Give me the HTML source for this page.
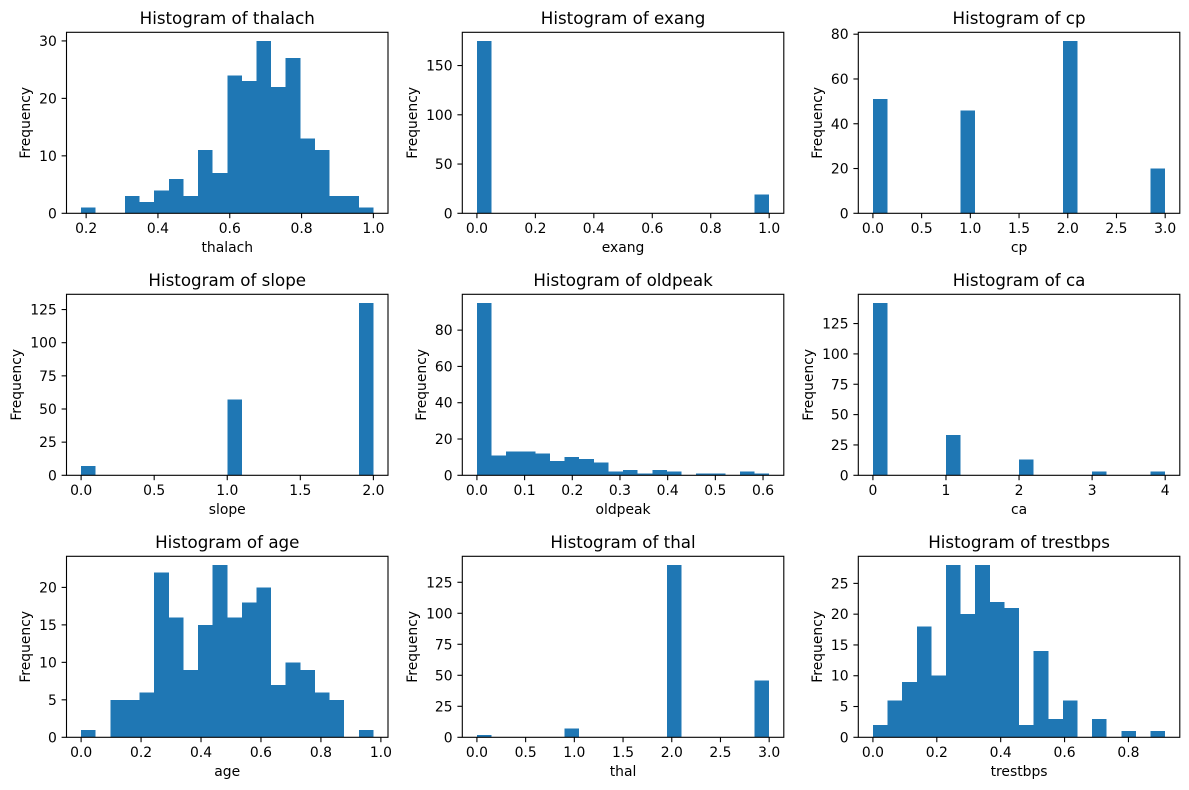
<!DOCTYPE html>
<html><head><meta charset="utf-8">
<style>
html,body{margin:0;padding:0;background:#fff;}
svg{display:block;font-family:"DejaVu Sans","Liberation Sans",sans-serif;}
</style></head>
<body>
<svg id="fig" width="1189" height="790" viewBox="0 0 1189 790" xmlns="http://www.w3.org/2000/svg">
<rect x="0" y="0" width="1189" height="790" fill="#fff"/>
</svg>
<script>
// ---- data ----
const thalachCounts = [1,0,0,3,2,4,6,3,11,7,24,23,30,22,27,13,11,3,3,1];
const thalachRange = [0.186, 1.0];
const thalachXTicks = ["0.2","0.4","0.6","0.8","1.0"];
const thalachYTicks = ["0","10","20","30"];

const exangCounts = [175,0,0,0,0,0,0,0,0,0,0,0,0,0,0,0,0,0,0,19];
const exangRange = [0, 1];
const exangXTicks = ["0.0","0.2","0.4","0.6","0.8","1.0"];
const exangYTicks = ["0","50","100","150"];

const cpCounts = [51,0,0,0,0,0,46,0,0,0,0,0,0,77,0,0,0,0,0,20];
const cpRange = [0, 3];
const cpXTicks = ["0.0","0.5","1.0","1.5","2.0","2.5","3.0"];
const cpYTicks = ["0","20","40","60","80"];

const slopeCounts = [7,0,0,0,0,0,0,0,0,0,57,0,0,0,0,0,0,0,0,130];
const slopeRange = [0, 2];
const slopeXTicks = ["0.0","0.5","1.0","1.5","2.0"];
const slopeYTicks = ["0","25","50","75","100","125"];

const oldpeakCounts = [95,11,13,13,12,8,10,9,7,2,3,1,3,2,0,1,1,0,2,1];
const oldpeakRange = [0, 0.6129];
const oldpeakXTicks = ["0.0","0.1","0.2","0.3","0.4","0.5","0.6"];
const oldpeakYTicks = ["0","20","40","60","80"];

const caCounts = [142,0,0,0,0,33,0,0,0,0,13,0,0,0,0,3,0,0,0,3];
const caRange = [0, 4];
const caXTicks = ["0","1","2","3","4"];
const caYTicks = ["0","25","50","75","100","125"];

const ageCounts = [1,0,5,5,6,22,16,9,15,23,16,18,20,7,10,9,6,5,0,1];
const ageRange = [0, 0.975];
const ageXTicks = ["0.0","0.2","0.4","0.6","0.8","1.0"];
const ageYTicks = ["0","5","10","15","20"];

const thalCounts = [2,0,0,0,0,0,7,0,0,0,0,0,0,139,0,0,0,0,0,46];
const thalRange = [0, 3];
const thalXTicks = ["0.0","0.5","1.0","1.5","2.0","2.5","3.0"];
const thalYTicks = ["0","25","50","75","100","125"];

const trestbpsCounts = [2,6,9,18,10,28,20,28,22,21,2,14,3,6,0,3,0,1,0,1];
const trestbpsRange = [0, 0.915];
const trestbpsXTicks = ["0.0","0.2","0.4","0.6","0.8"];
const trestbpsYTicks = ["0","5","10","15","20","25"];

const panels = [
  {name:"thalach", counts:thalachCounts, range:thalachRange, xt:thalachXTicks, yt:thalachYTicks},
  {name:"exang", counts:exangCounts, range:exangRange, xt:exangXTicks, yt:exangYTicks},
  {name:"cp", counts:cpCounts, range:cpRange, xt:cpXTicks, yt:cpYTicks},
  {name:"slope", counts:slopeCounts, range:slopeRange, xt:slopeXTicks, yt:slopeYTicks},
  {name:"oldpeak", counts:oldpeakCounts, range:oldpeakRange, xt:oldpeakXTicks, yt:oldpeakYTicks},
  {name:"ca", counts:caCounts, range:caRange, xt:caXTicks, yt:caYTicks},
  {name:"age", counts:ageCounts, range:ageRange, xt:ageXTicks, yt:ageYTicks},
  {name:"thal", counts:thalCounts, range:thalRange, xt:thalXTicks, yt:thalYTicks},
  {name:"trestbps", counts:trestbpsCounts, range:trestbpsRange, xt:trestbpsXTicks, yt:trestbpsYTicks}
];

// ---- layout ----
const colLeft = [66.5, 462.3, 858.3];
const rowTop = [32.3, 294.3, 556.3];
const AW = 321.5, AH = 181;
const NS = "http://www.w3.org/2000/svg";
const svg = document.getElementById("fig");

function mk(tag, attrs, parent){
  const e = document.createElementNS(NS, tag);
  for (const k in attrs) e.setAttribute(k, attrs[k]);
  (parent||svg).appendChild(e);
  return e;
}

panels.forEach((p, i) => {
  const L = colLeft[i % 3], T = rowTop[Math.floor(i / 3)], B = T + AH, R = L + AW;
  const g = mk("g", {});
  
  

  const lo = p.range[0], hi = p.range[1], span = hi - lo;
  const x0 = lo - 0.05 * span, x1 = hi + 0.05 * span;
  const ymax = Math.max(...p.counts) * 1.05;
  const sx = v => L + (v - x0) / (x1 - x0) * AW;
  const sy = v => B - v / ymax * AH;
  const n = p.counts.length, bw = span / n;

  // bars
  p.counts.forEach((c, k) => {
    if (c <= 0) return;
    const xa = sx(lo + k * bw), xb = sx(lo + (k + 1) * bw);
    const r = mk("rect", {x: xa, y: sy(c), width: xb - xa, height: B - sy(c), fill: "#1f77b4", "shape-rendering": "crispEdges"}, g);
    
    
  });

  // spines
  const fr = mk("rect", {x: L, y: T, width: AW, height: AH, fill: "none", stroke: "#000", "stroke-width": 1.1}, g);
  
  

  // x ticks
  p.xt.forEach(lbl => {
    const x = sx(parseFloat(lbl));
    mk("line", {x1: x, y1: B, x2: x, y2: B + 4.9, stroke: "#000", "stroke-width": 1.1}, g);
    const t = mk("text", {x: x, y: B + 19.5, "font-size": 13.9, "text-anchor": "middle", fill: "#000"}, g);
    t.textContent = lbl;
    
    
  });

  // y ticks
  let maxW = 0;
  p.yt.forEach(lbl => {
    const y = sy(parseFloat(lbl));
    mk("line", {x1: L - 4.9, y1: y, x2: L, y2: y, stroke: "#000", "stroke-width": 1.1}, g);
    const t = mk("text", {x: L - 9.7, y: y + 5, "font-size": 13.9, "text-anchor": "end", fill: "#000"}, g);
    t.textContent = lbl;
    
    
    maxW = Math.max(maxW, lbl.length * 8.85);
  });

  // title
  const tt = mk("text", {x: L + AW / 2, y: T - 8.5, "font-size": 16.7, "text-anchor": "middle", fill: "#000"}, g);
  tt.textContent = "Histogram of " + p.name;
  
  

  // x label
  const xl = mk("text", {x: L + AW / 2, y: B + 38.5, "font-size": 13.9, "text-anchor": "middle", fill: "#000"}, g);
  xl.textContent = p.name;
  
  

  // y label
  const cx = L - 9.7 - maxW - 5.6 - 3.5;
  const cy = T + AH / 2;
  const yl = mk("text", {x: cx, y: cy, "font-size": 13.9, "text-anchor": "middle", fill: "#000",
    transform: "rotate(-90 " + cx + " " + cy + ")"}, g);
  yl.textContent = "Frequency";
  
  
});
</script>
</body></html>
